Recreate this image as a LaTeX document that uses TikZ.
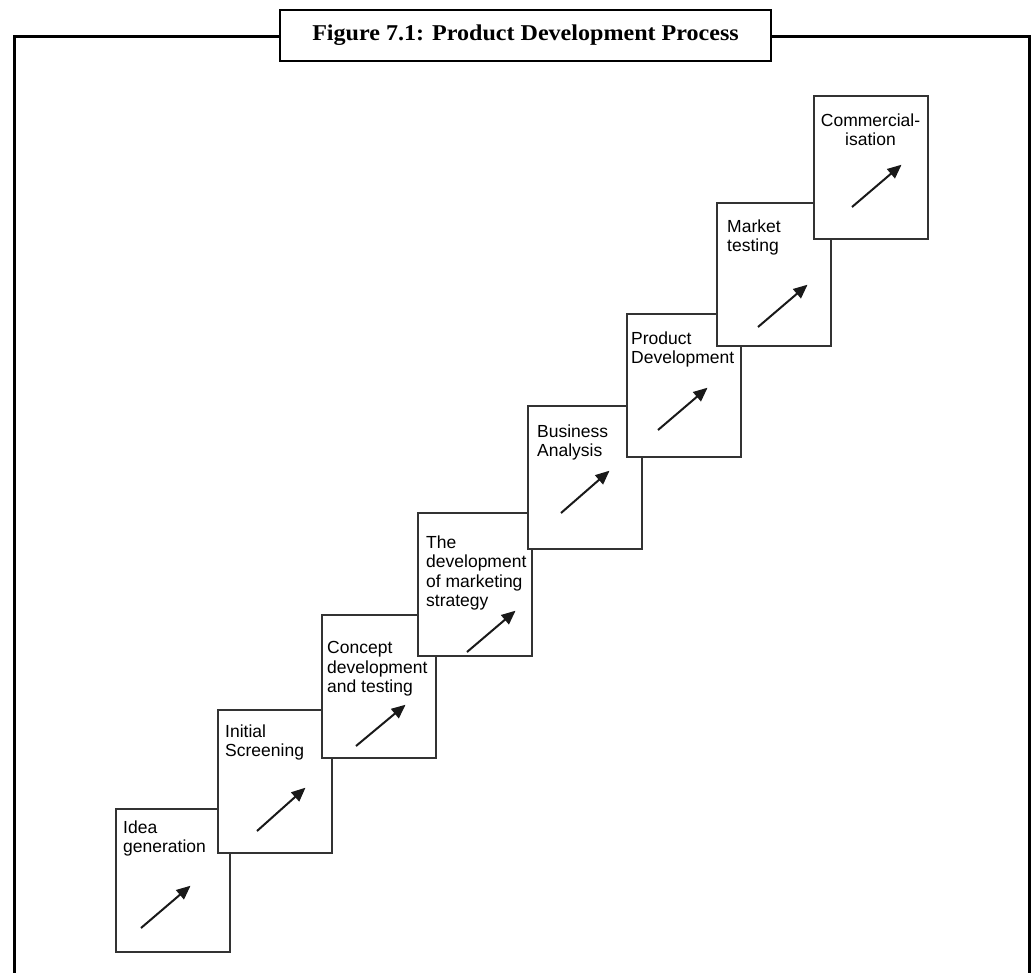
\documentclass[tikz,border=0pt]{standalone}
\usepackage{fontspec}
\setmainfont{Liberation Serif}
\newfontfamily\boxfont{Liberation Sans}
\usetikzlibrary{arrows.meta}
\tikzset{
  x=1pt, y=1pt,
  framestyle/.style={line width=3pt, black},
  titlebox/.style={draw=black, line width=2.6pt, fill=white, minimum width=491pt, minimum height=51pt, inner sep=0pt},
  stepbox/.style={draw=black!80, line width=2pt, fill=white, minimum width=114pt, minimum height=143pt, anchor=north west, inner sep=0pt},
  steptext/.style={anchor=north west, inner sep=0pt, align=left, font=\boxfont\fontsize{17.5}{19.5}\selectfont},
  steparrow/.style={line width=2pt, black!90, -{Triangle[length=14pt,width=12pt]}, shorten >=-2pt}
}
\begin{document}
\begin{tikzpicture}
\useasboundingbox (0,0) rectangle (1033,-972);
\clip (0,0) rectangle (1033,-972);
% outer frame (open at the bottom)
\coordinate (fbl) at (14.5,-990);
\coordinate (ftl) at (14.5,-36);
\coordinate (ftr) at (1029,-36);
\coordinate (fbr) at (1029,-990);
\draw[framestyle] (fbl) -- (ftl) -- (ftr) -- (fbr);
% title
\node[titlebox] (title) at (525.5,-35.5) {\scalebox{1.065}[1]{\fontsize{22.6}{26}\selectfont\bfseries Figure 7.1: Product Development Process}};
% step boxes (later boxes on top)
\node[stepbox] (b1) at (115,-808) {};
\node[steptext] (t1) at (123,-820.4) {Idea\\generation};
\draw[steparrow] (141,-928) -- (189,-887);
\node[stepbox] (b2) at (217,-709) {};
\node[steptext] (t2) at (225,-724.4) {Initial\\Screening};
\draw[steparrow] (257,-831) -- (304,-789);
\node[stepbox] (b3) at (321,-614) {};
\node[steptext] (t3) at (327,-641.4) {Concept\\development\\and testing};
\draw[steparrow] (356,-746) -- (404,-706);
\node[stepbox] (b4) at (417,-512) {};
\node[steptext] (t4) at (426,-535.4) {The\\development\\of marketing\\strategy};
\draw[steparrow] (467,-652) -- (514,-612);
\node[stepbox] (b5) at (527,-405) {};
\node[steptext] (t5) at (537,-424.4) {Business\\Analysis};
\draw[steparrow] (561,-513) -- (608,-472);
\node[stepbox] (b6) at (625.5,-313) {};
\node[steptext] (t6) at (631,-331.4) {Product\\Development};
\draw[steparrow] (658,-430) -- (706,-389);
\node[stepbox] (b7) at (715.5,-202) {};
\node[steptext] (t7) at (727,-219.4) {Market\\testing};
\draw[steparrow] (758,-327) -- (806,-286);
\node[stepbox] (b8) at (813,-95) {};
\node[steptext, anchor=north, align=center] (t8) at (870.5,-113.4) {Commercial-\\isation};
\draw[steparrow] (852,-207) -- (900,-166);
\end{tikzpicture}
\end{document}
